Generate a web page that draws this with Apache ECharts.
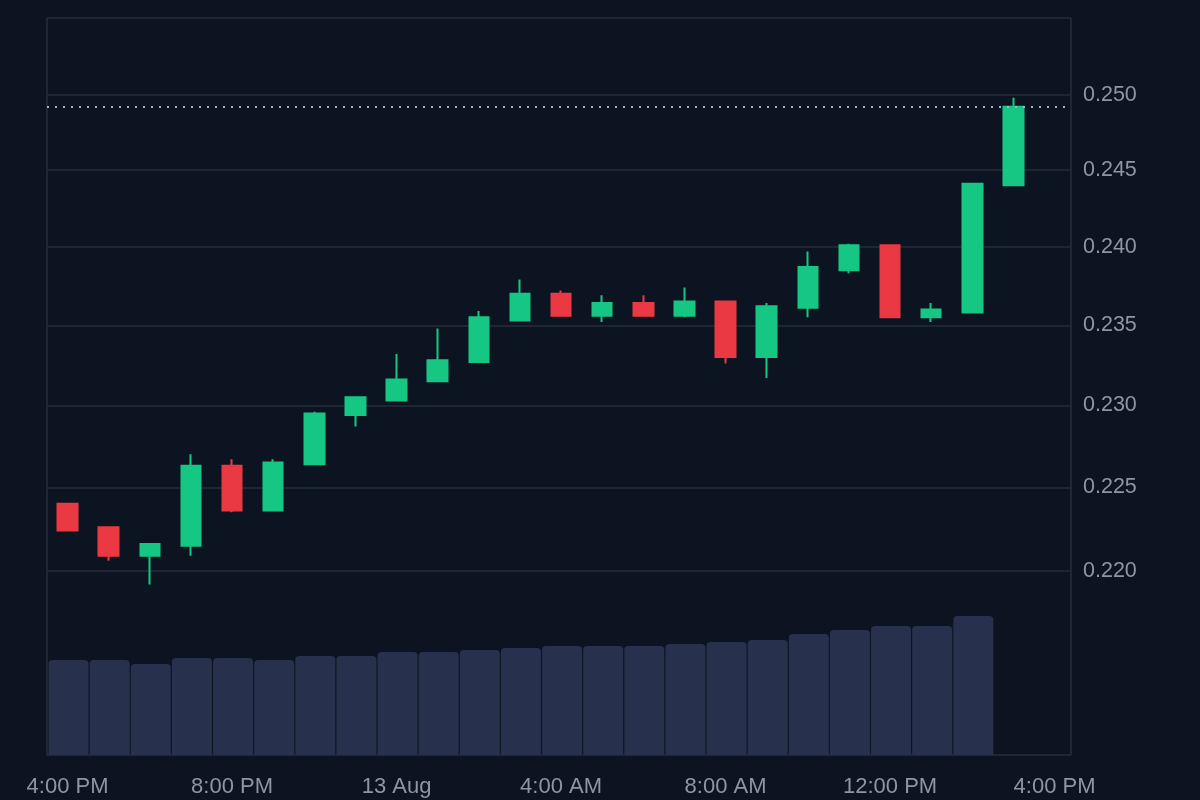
<!DOCTYPE html>
<html>
<head>
<meta charset="utf-8">
<script src="https://cdn.jsdelivr.net/npm/echarts@6/dist/echarts.min.js"></script>
<style>
  html, body { margin: 0; padding: 0; background: #0d1421; }
  #chart { width: 1200px; height: 800px; }
</style>
</head>
<body>
<div id="chart"></div>
<script>
// ---- data ----
const times = [
  '2024-08-12T16:00:00Z', '2024-08-12T17:00:00Z', '2024-08-12T18:00:00Z', '2024-08-12T19:00:00Z',
  '2024-08-12T20:00:00Z', '2024-08-12T21:00:00Z', '2024-08-12T22:00:00Z', '2024-08-12T23:00:00Z',
  '2024-08-13T00:00:00Z', '2024-08-13T01:00:00Z', '2024-08-13T02:00:00Z', '2024-08-13T03:00:00Z',
  '2024-08-13T04:00:00Z', '2024-08-13T05:00:00Z', '2024-08-13T06:00:00Z', '2024-08-13T07:00:00Z',
  '2024-08-13T08:00:00Z', '2024-08-13T09:00:00Z', '2024-08-13T10:00:00Z', '2024-08-13T11:00:00Z',
  '2024-08-13T12:00:00Z', '2024-08-13T13:00:00Z', '2024-08-13T14:00:00Z', '2024-08-13T15:00:00Z'
];
const opens  = [0.2240, 0.2226, 0.2209, 0.2215, 0.2263, 0.2236, 0.2264, 0.2294, 0.2303, 0.2315, 0.2327, 0.2353,
                0.2370, 0.2356, 0.2364, 0.2356, 0.2365, 0.2330, 0.2361, 0.2385, 0.2401, 0.2355, 0.2358, 0.2440];
const closes = [0.2224, 0.2209, 0.2216, 0.2263, 0.2236, 0.2265, 0.2295, 0.2305, 0.2316, 0.2328, 0.2355, 0.2370,
                0.2356, 0.2364, 0.2356, 0.2365, 0.2330, 0.2362, 0.2387, 0.2401, 0.2355, 0.2360, 0.2441, 0.2492];
const lows   = [0.2224, 0.2206, 0.2192, 0.2209, 0.2235, 0.2236, 0.2264, 0.2287, 0.2303, 0.2315, 0.2327, 0.2353,
                0.2356, 0.2352, 0.2356, 0.2355, 0.2326, 0.2317, 0.2355, 0.2383, 0.2355, 0.2352, 0.2358, 0.2440];
const highs  = [0.2240, 0.2226, 0.2216, 0.2270, 0.2267, 0.2267, 0.2296, 0.2305, 0.2332, 0.2348, 0.2359, 0.2379,
                0.2372, 0.2369, 0.2369, 0.2374, 0.2365, 0.2364, 0.2397, 0.2402, 0.2401, 0.2364, 0.2441, 0.2498];
// volume (millions) – only the first 23 hours have a bar
const volumes = [9.5, 9.5, 9.1, 9.7, 9.7, 9.5, 9.9, 9.9, 10.3, 10.3, 10.5, 10.7,
                 10.9, 10.9, 10.9, 11.1, 11.3, 11.5, 12.1, 12.5, 12.9, 12.9, 13.9];
const priceTicks = [0.220, 0.225, 0.230, 0.235, 0.240, 0.245, 0.250];
const monthNames = ['Jan', 'Feb', 'Mar', 'Apr', 'May', 'Jun', 'Jul', 'Aug', 'Sep', 'Oct', 'Nov', 'Dec'];

// ---- build series data ----
const candleData = times.map((t, i) => [t, opens[i], closes[i], lows[i], highs[i]]);
const volumeData = volumes.map((v, i) => [times[i], v]);
const lastClose = closes[closes.length - 1];

function fmtTime(v) {
  const d = new Date(v);
  const h = d.getUTCHours(), m = d.getUTCMinutes();
  if (m !== 0 || h % 4 !== 0) return '';
  if (h === 0) return d.getUTCDate() + ' ' + monthNames[d.getUTCMonth()];
  const h12 = h % 12 === 0 ? 12 : h % 12;
  return h12 + ':00 ' + (h < 12 ? 'AM' : 'PM');
}

const UP = '#16c784', DOWN = '#ea3943';
const LABEL = '#8e96a6';
const VOL = '#27304d';
const FONT = '"Liberation Sans", Arial, Helvetica, sans-serif';

const chart = echarts.init(document.getElementById('chart'), null, { renderer: 'canvas' });
chart.setOption({
  backgroundColor: '#0d1421',
  useUTC: true,
  animation: false,
  grid: {
    left: 47, right: 129, top: 18, bottom: 45,
    show: true, borderColor: '#343846', borderWidth: 1, backgroundColor: 'transparent'
  },
  xAxis: {
    type: 'time',
    min: '2024-08-12T15:30:00Z',
    max: '2024-08-13T16:24:00Z',
    minInterval: 4 * 3600 * 1000,
    maxInterval: 4 * 3600 * 1000,
    axisLine: { show: false },
    axisTick: { show: false },
    splitLine: { show: false },
    axisLabel: {
      formatter: fmtTime,
      color: LABEL, fontSize: 22, fontFamily: FONT, margin: 21,
      showMinLabel: false, showMaxLabel: false, hideOverlap: false
    }
  },
  yAxis: [
    {
      type: 'log',
      logBase: 10,
      position: 'right',
      min: 0.2094,
      max: 0.2552,
      axisLine: { show: false },
      axisTick: { show: false, customValues: priceTicks },
      axisLabel: {
        customValues: priceTicks,
        formatter: (v) => Number(v).toFixed(3),
        color: LABEL, fontSize: 21.5, fontFamily: FONT, margin: 12
      },
      splitLine: { show: true, lineStyle: { color: '#262b38', width: 1.5 } }
    },
    {
      type: 'value',
      min: 0,
      max: 73.7,
      show: false,
      splitLine: { show: false }
    }
  ],
  series: [
    {
      name: 'Volume',
      type: 'custom',
      xAxisIndex: 0,
      yAxisIndex: 1,
      data: volumeData,
      encode: { x: 0, y: 1 },
      silent: true,
      clip: true,
      z: 1,
      renderItem: function (params, api) {
        const top = api.coord([api.value(0), api.value(1)]);
        const base = api.coord([api.value(0), 0]);
        const w = 40;
        return {
          type: 'rect',
          shape: { x: top[0] - w / 2 + 1, y: top[1], width: w, height: base[1] - top[1], r: [4, 4, 0, 0] },
          style: { fill: VOL }
        };
      }
    },
    {
      name: 'Price',
      type: 'candlestick',
      xAxisIndex: 0,
      yAxisIndex: 0,
      data: candleData,
      barWidth: 20,
      itemStyle: {
        color: UP, color0: DOWN,
        borderColor: UP, borderColor0: DOWN,
        borderWidth: 2
      },
      markLine: {
        silent: true,
        precision: 6,
        symbol: ['none', 'none'],
        label: { show: false },
        lineStyle: { color: '#aab1be', type: [2, 6], width: 2 },
        data: [{ yAxis: lastClose }]
      },
      z: 3
    }
  ]
});
</script>
</body>
</html>
